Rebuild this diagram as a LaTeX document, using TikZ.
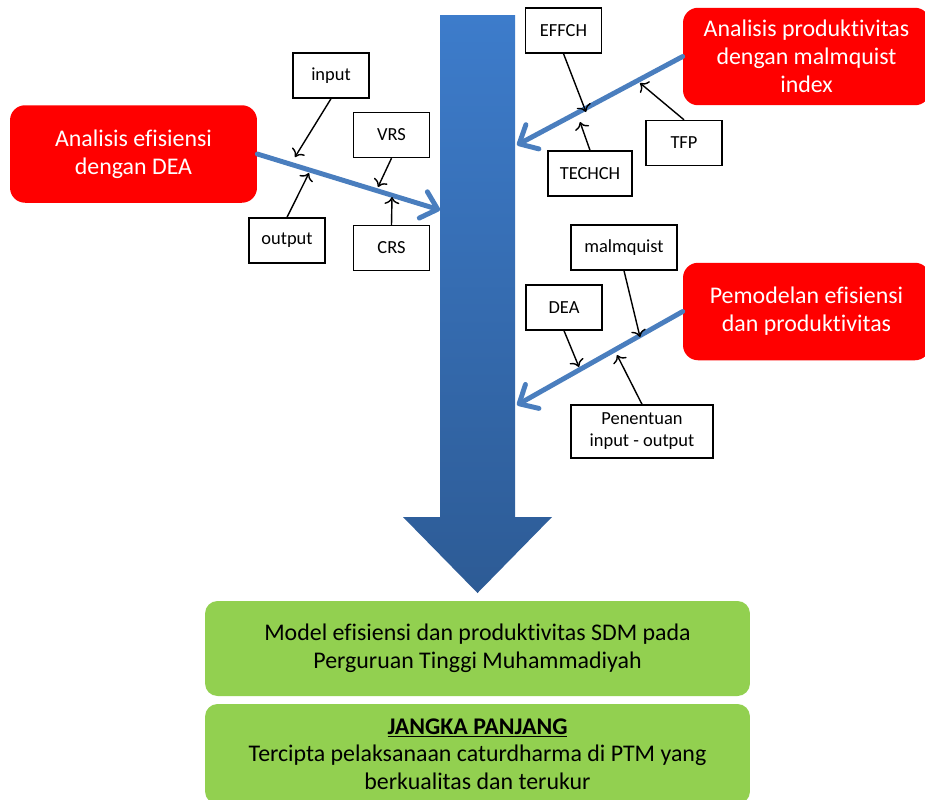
\documentclass[tikz,border=0pt]{standalone}
\usepackage{fontspec}
\setmainfont{Carlito}[Ligatures=NoCommon]
\usetikzlibrary{arrows.meta}
\definecolor{boxred}{HTML}{FF0000}
\definecolor{boxgreen}{HTML}{92D050}
\definecolor{linkblue}{HTML}{4A7EBE}
\definecolor{shafttop}{HTML}{3D7CCB}
\definecolor{shaftbot}{HTML}{2D5B95}
\begin{document}
\begin{tikzpicture}[x=0.02cm,y=-0.02cm,
  redbox/.style={fill=boxred,rounded corners=0.3cm,text=white,align=center,
    minimum width=4.94cm,minimum height=1.95cm,font=\fontsize{13.6}{16}\selectfont},
  smallbox/.style={draw,line width=0.8pt,fill=white,align=center,inner sep=1pt,
    minimum width=1.52cm,minimum height=0.9cm,font=\fontsize{10.5}{12.5}\selectfont},
  greenbox/.style={fill=boxgreen,rounded corners=0.25cm,align=center,
    minimum width=10.9cm,font=\fontsize{13.6}{15.8}\selectfont},
  link/.style={linkblue,line width=2.8pt,line cap=round,
    -{Straight Barb[length=0.3cm,width=0.55cm,round]}},
  feed/.style={line width=0.8pt,-{To[length=4pt,width=8.5pt]}}]
\useasboundingbox (0,0) rectangle (925,799);
% big arrow
\shade[top color=shafttop,bottom color=shaftbot]
  (440,15) -- (515,15) -- (515,517) -- (552,517) -- (477.5,593)
  -- (403,517) -- (440,517) -- cycle;
% red boxes
\node[redbox] (efisiensi) at (133.5,154) {Analisis efisiensi\\dengan DEA};
\node[redbox] (produktivitas) at (806.5,56.5) {Analisis produktivitas\\dengan malmquist\\index};
\node[redbox] (pemodelan) at (806.5,311.5) {Pemodelan efisiensi\\dan produktivitas};
\coordinate (efisiensi-end) at (440,210);
\coordinate (produktivitas-end) at (517,145);
\coordinate (pemodelan-end) at (517,405);
\draw[link] (efisiensi.east) -- (efisiensi-end);
\draw[link] (produktivitas.west) -- (produktivitas-end);
\draw[link] (pemodelan.west) -- (pemodelan-end);
% small boxes
\node[smallbox] (input) at (331,75.5) {input};
\node[smallbox] (vrs) at (391.5,135) {VRS};
\node[smallbox] (output) at (287,240.5) {output};
\node[smallbox] (crs) at (391.5,248) {CRS};
\node[smallbox] (effch) at (563.5,30.5) {EFFCH};
\node[smallbox,minimum width=1.68cm] (techch) at (590,173.5) {TECHCH};
\node[smallbox] (tfp) at (684,143) {TFP};
\node[smallbox,minimum width=2.12cm] (malmquist) at (624,247.5) {malmquist};
\node[smallbox] (dea) at (564,307.5) {DEA};
\node[smallbox,minimum width=2.84cm,minimum height=1.06cm] (penentuan) at (642,431.5) {Penentuan\\input - output};
% small arrows onto the blue lines
\coordinate (input-tip) at (295,157);
\coordinate (output-tip) at (309,173);
\coordinate (vrs-tip) at (378,187);
\coordinate (crs-tip) at (392,197);
\coordinate (effch-tip) at (586,112);
\coordinate (techch-tip) at (580,122);
\coordinate (tfp-tip) at (640,83);
\coordinate (malmquist-tip) at (640,337);
\coordinate (dea-tip) at (579,367);
\coordinate (penentuan-tip) at (617,355);
\draw[feed] (input.south) -- (input-tip);
\draw[feed] (output.north) -- (output-tip);
\draw[feed] (vrs.south) -- (vrs-tip);
\draw[feed] (crs.north) -- (crs-tip);
\draw[feed] (effch.south) -- (effch-tip);
\draw[feed] (techch.north) -- (techch-tip);
\draw[feed] (tfp.north) -- (tfp-tip);
\draw[feed] (malmquist.south) -- (malmquist-tip);
\draw[feed] (dea.south) -- (dea-tip);
\draw[feed] (penentuan.north) -- (penentuan-tip);
% green boxes
\node[greenbox,minimum height=1.9cm] (model) at (477.5,648.5)
  {Model efisiensi dan produktivitas SDM pada\\Perguruan Tinggi Muhammadiyah};
\node[greenbox,minimum height=2cm] (jangka) at (477.5,754)
  {\textbf{\underline{JANGKA PANJANG}}\\Tercipta pelaksanaan caturdharma di PTM yang\\berkualitas dan terukur};
\end{tikzpicture}
\end{document}
